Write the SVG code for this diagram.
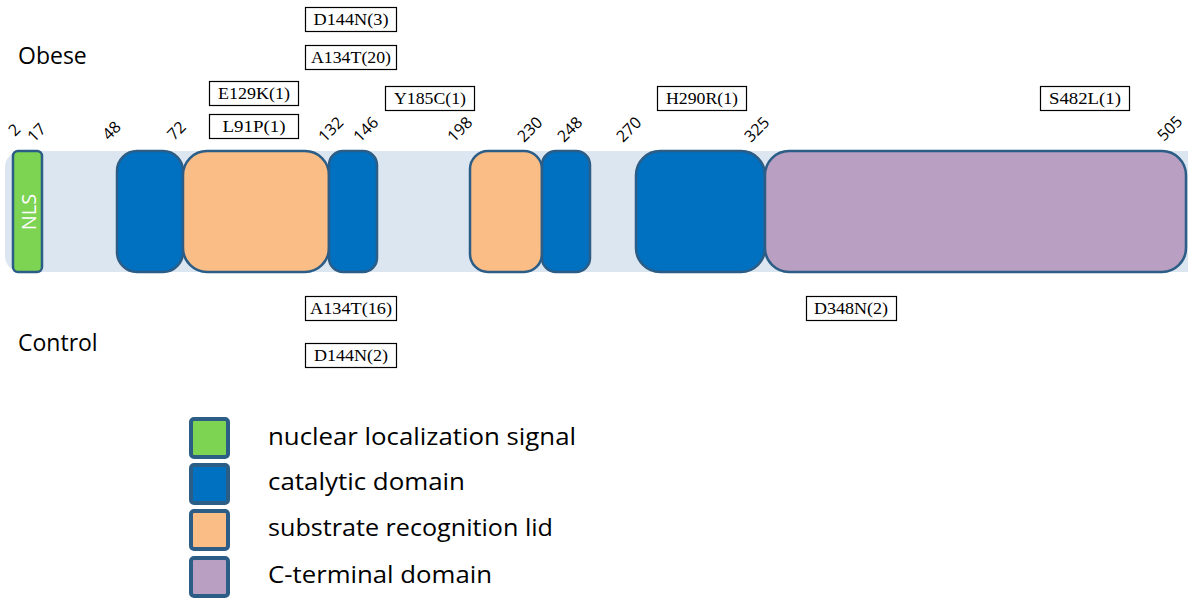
<svg xmlns="http://www.w3.org/2000/svg" width="1188" height="599" viewBox="0 0 1188 599">
  <style>
    .dom { stroke: #2b5d86; stroke-width: 2.5; }
    .nls { fill: #7dd352; }
    .cat { fill: #0070c0; }
    .lid { fill: #fbbd86; }
    .cterm { fill: #b9a0c2; }
    .pos { font-family: "Open Sans", "Liberation Sans", sans-serif; font-size: 16px; fill: #000; }
    .mut rect { fill: #fff; stroke: #000; stroke-width: 1.2; }
    .mut text { font-family: "Liberation Serif", "DejaVu Serif", serif; font-size: 16px; fill: #000; text-anchor: middle; }
    .grp { font-family: "Open Sans", "Liberation Sans", sans-serif; font-size: 23px; fill: #000; }
    .leg rect { stroke: #2b5d86; stroke-width: 4; }
    .leg text { font-family: "Open Sans", "Liberation Sans", sans-serif; font-size: 23px; fill: #000; }
  </style>

  <rect width="1188" height="599" fill="#fff"/>

  <!-- protein backbone -->
  <rect id="backbone" x="5" y="151" width="1200" height="121" rx="16" fill="#dce6f1"/>

  <!-- domains -->
  <g id="domains">
    <g id="nls"><rect class="dom nls" x="13" y="151" width="29" height="121" rx="5"/>
      <text x="28" y="212" transform="rotate(-90 28 212)" text-anchor="middle" dominant-baseline="central" font-family="Open Sans, Liberation Sans, sans-serif" font-size="20" fill="#fff">NLS</text></g>
    <g id="cat1"><rect class="dom cat" x="117" y="151" width="66" height="121" rx="20"/></g>
    <g id="lid1"><rect class="dom lid" x="183" y="151" width="146" height="121" rx="24"/></g>
    <g id="cat2"><rect class="dom cat" x="329" y="151" width="48" height="121" rx="14"/></g>
    <g id="lid2"><rect class="dom lid" x="470" y="151" width="72" height="121" rx="18"/></g>
    <g id="cat3"><rect class="dom cat" x="542" y="151" width="48" height="121" rx="14"/></g>
    <g id="cat4"><rect class="dom cat" x="636" y="151" width="129" height="121" rx="24"/></g>
    <g id="cterm"><rect class="dom cterm" x="765" y="151" width="421" height="121" rx="24"/></g>
  </g>

  <!-- residue positions -->
  <g id="positions" class="pos">
    <text transform="translate(15 137) rotate(-45)">2</text>
    <text transform="translate(34 143) rotate(-45)">17</text>
    <text transform="translate(109 141) rotate(-45)">48</text>
    <text transform="translate(174 141) rotate(-45)">72</text>
    <text transform="translate(325 143) rotate(-45)">132</text>
    <text transform="translate(360 143) rotate(-45)">146</text>
    <text transform="translate(454 143) rotate(-45)">198</text>
    <text transform="translate(524 143) rotate(-45)">230</text>
    <text transform="translate(564 143) rotate(-45)">248</text>
    <text transform="translate(623 143) rotate(-45)">270</text>
    <text transform="translate(751 143) rotate(-45)">325</text>
    <text transform="translate(1164 142) rotate(-45)">505</text>
  </g>

  <!-- group labels -->
  <text class="grp" x="18" y="64">Obese</text>
  <text class="grp" x="18" y="351">Control</text>

  <!-- obese mutations -->
  <g id="mut-obese" class="mut">
    <g id="m-D144N-3"><rect x="305.5" y="7.5" width="91" height="24"/><text x="351" y="25" textLength="75" lengthAdjust="spacingAndGlyphs">D144N(3)</text></g>
    <g id="m-A134T-20"><rect x="305.5" y="45.5" width="91" height="24"/><text x="351" y="63" textLength="80" lengthAdjust="spacingAndGlyphs">A134T(20)</text></g>
    <g id="m-E129K-1"><rect x="209.5" y="81.5" width="89" height="24"/><text x="254" y="99" textLength="72" lengthAdjust="spacingAndGlyphs">E129K(1)</text></g>
    <g id="m-L91P-1"><rect x="209.5" y="114.5" width="89" height="24"/><text x="254" y="132" textLength="63" lengthAdjust="spacingAndGlyphs">L91P(1)</text></g>
    <g id="m-Y185C-1"><rect x="385.5" y="86.5" width="89" height="24"/><text x="430" y="104" textLength="72" lengthAdjust="spacingAndGlyphs">Y185C(1)</text></g>
    <g id="m-H290R-1"><rect x="657.5" y="86.5" width="89" height="24"/><text x="702" y="104" textLength="72" lengthAdjust="spacingAndGlyphs">H290R(1)</text></g>
    <g id="m-S482L-1"><rect x="1040.5" y="86.5" width="89" height="24"/><text x="1085" y="104" textLength="72" lengthAdjust="spacingAndGlyphs">S482L(1)</text></g>
  </g>

  <!-- control mutations -->
  <g id="mut-control" class="mut">
    <g id="c-A134T-16"><rect x="305.5" y="296.5" width="91" height="24"/><text x="351" y="314" textLength="82" lengthAdjust="spacingAndGlyphs">A134T(16)</text></g>
    <g id="c-D144N-2"><rect x="305.5" y="343.5" width="91" height="24"/><text x="351" y="361" textLength="74" lengthAdjust="spacingAndGlyphs">D144N(2)</text></g>
    <g id="c-D348N-2"><rect x="806.5" y="296.5" width="90" height="24"/><text x="851" y="314" textLength="74" lengthAdjust="spacingAndGlyphs">D348N(2)</text></g>
  </g>

  <!-- legend -->
  <g id="legend" class="leg">
    <g id="leg-nls"><rect class="nls" x="191" y="419" width="37" height="38" rx="3"/><text x="268" y="445" textLength="308" lengthAdjust="spacingAndGlyphs">nuclear localization signal</text></g>
    <g id="leg-cat"><rect class="cat" x="191" y="465" width="37" height="38" rx="3"/><text x="268" y="490" textLength="197" lengthAdjust="spacingAndGlyphs">catalytic domain</text></g>
    <g id="leg-lid"><rect class="lid" x="191" y="511" width="37" height="38" rx="3"/><text x="268" y="536" textLength="285" lengthAdjust="spacingAndGlyphs">substrate recognition lid</text></g>
    <g id="leg-cterm"><rect class="cterm" x="191" y="558" width="37" height="38" rx="3"/><text x="268" y="583" textLength="224" lengthAdjust="spacingAndGlyphs">C-terminal domain</text></g>
  </g>
</svg>
